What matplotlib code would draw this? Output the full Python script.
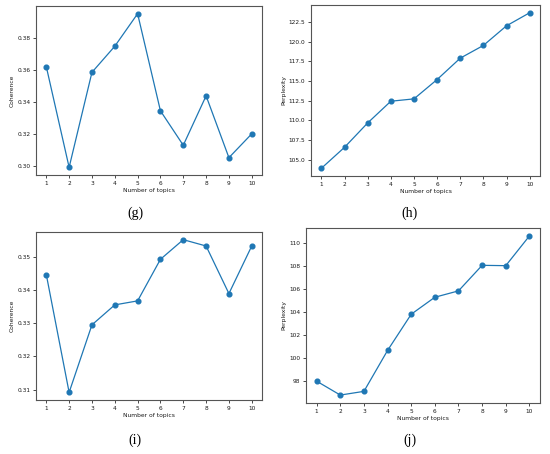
import matplotlib
matplotlib.use("Agg")
import matplotlib.pyplot as plt
import numpy as np

topics = [1, 2, 3, 4, 5, 6, 7, 8, 9, 10]
coh_g = [0.3619, 0.2994, 0.3584, 0.3746, 0.3948, 0.3345, 0.3131, 0.3438, 0.3054, 0.3202]
perp_h = [103.90, 106.57, 109.67, 112.43, 112.73, 115.19, 117.91, 119.53, 122.03, 123.69]
coh_i = [0.3446, 0.3092, 0.3295, 0.3355, 0.3367, 0.3492, 0.3551, 0.3532, 0.3389, 0.3532]
perp_j = [98.02, 96.82, 97.14, 100.68, 103.81, 105.28, 105.83, 108.04, 108.01, 110.58]

panels = [
    # data, ylabel, yticks, tick format, axes rect, caption, caption pos
    (coh_g, "Coherence", [0.30, 0.32, 0.34, 0.36, 0.38], "{:.2f}",
     [0.0655, 0.6145, 0.4109, 0.3722], "(g)", (0.2455, 0.531)),
    (perp_h, "Perplexity", [105.0, 107.5, 110.0, 112.5, 115.0, 117.5, 120.0, 122.5], "{:.1f}",
     [0.5655, 0.6123, 0.4164, 0.3767], "(h)", (0.745, 0.531)),
    (coh_i, "Coherence", [0.31, 0.32, 0.33, 0.34, 0.35], "{:.2f}",
     [0.0655, 0.1189, 0.4109, 0.3700], "(i)", (0.2455, 0.031)),
    (perp_j, "Perplexity", [98, 100, 102, 104, 106, 108, 110], "{:d}",
     [0.5564, 0.1123, 0.4255, 0.3855], "(j)", (0.745, 0.031)),
]

fig = plt.figure(figsize=(5.5, 4.54), dpi=100)

for vals, ylab, yt, fmt, rect, cap, cpos in panels:
    ax = fig.add_axes(rect)
    ax.plot(topics, vals, marker="o", color="#1f77b4", lw=0.9, markersize=3.4)
    ax.set_xticks(topics)
    ax.set_yticks(yt)
    ax.set_yticklabels([fmt.format(v) for v in yt])
    ax.set_xlabel("Number of topics", fontsize=4.3, labelpad=1.5, color="#1a1a1a")
    ax.set_ylabel(ylab, fontsize=4.3, labelpad=2, color="#1a1a1a")
    ax.tick_params(labelsize=4.2, length=2.2, width=0.5, pad=1.8, labelcolor="#1a1a1a")
    for s in ax.spines.values():
        s.set_linewidth(0.8)
        s.set_color("#555555")
    fig.text(cpos[0], cpos[1], cap, ha="center", va="center",
             fontsize=10, family="Liberation Serif")

fig.savefig("out.png", dpi=100)
